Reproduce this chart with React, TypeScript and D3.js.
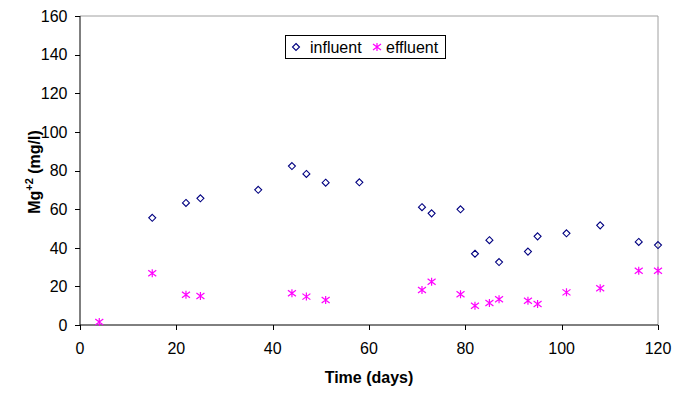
import React from "react";
import * as d3 from "d3";

const influentDays = [15, 22, 25, 37, 44, 47, 51, 58, 71, 73, 79, 82, 85, 87, 93, 95, 101, 108, 116, 120];
const influentMg = [55.5, 63.2, 65.6, 70, 82.3, 78.2, 73.7, 73.9, 61, 57.8, 59.9, 36.9, 43.9, 32.6, 38, 45.9, 47.5, 51.6, 43, 41.4];
const effluentDays = [4, 15, 22, 25, 44, 47, 51, 71, 73, 79, 82, 85, 87, 93, 95, 101, 108, 116, 120];
const effluentMg = [1.6, 26.8, 15.7, 15, 16.4, 14.7, 12.9, 18.1, 22.4, 15.9, 10, 11.4, 13.3, 12.6, 10.9, 16.9, 19, 28.1, 28.1];
const xTicks = [0, 20, 40, 60, 80, 100, 120];
const yTicks = [0, 20, 40, 60, 80, 100, 120, 140, 160];
const seriesNames = ["influent", "effluent"];

const W = 685, H = 394;
const left = 80, right = 658, top = 16, bottom = 325;
const FONT = "'Liberation Sans', Arial, sans-serif";
const NAVY = "#000080";
const MAG = "#FF00FF";

function Diamond({ cx, cy }: { cx: number; cy: number }) {
  const r = 3.5;
  return (
    <path
      d={`M${cx},${cy - r}L${cx + r},${cy}L${cx},${cy + r}L${cx - r},${cy}Z`}
      fill="none"
      stroke={NAVY}
      strokeWidth={1.1}
    />
  );
}

function Star({ cx, cy }: { cx: number; cy: number }) {
  const r = 4;
  return (
    <path
      d={`M${cx},${cy - r}L${cx},${cy + r}M${cx - r},${cy - r * 0.75}L${cx + r},${cy + r * 0.75}M${cx - r},${cy + r * 0.75}L${cx + r},${cy - r * 0.75}`}
      fill="none"
      stroke={MAG}
      strokeWidth={1.2}
    />
  );
}

export default function App() {
  const x = d3.scaleLinear().domain([0, 120]).range([left, right]);
  const y = d3.scaleLinear().domain([0, 160]).range([bottom, top]);

  return (
    <svg width={W} height={H} style={{ position: "absolute", left: 0, top: 0, background: "#fff" }}>
      <rect x={0} y={0} width={W} height={H} fill="#fff" />
      <line x1={left} x2={right} y1={top} y2={top} stroke="#a0a0a0" strokeWidth={1} />
      <line x1={right} x2={right} y1={top} y2={bottom} stroke="#a0a0a0" strokeWidth={1} />
      <line x1={left} x2={left} y1={top} y2={bottom} stroke="#000" strokeWidth={1} />
      <line x1={left} x2={right} y1={bottom} y2={bottom} stroke="#000" strokeWidth={1} />
      {yTicks.map((t) => (
        <g key={"y" + t}>
          <line x1={left - 5} x2={left} y1={Math.round(y(t)) + 0.5} y2={Math.round(y(t)) + 0.5} stroke="#000" />
          <text x={67.5} y={y(t)} dy="0.36em" textAnchor="end" fontFamily={FONT} fontSize={16} fill="#000">
            {t}
          </text>
        </g>
      ))}
      {xTicks.map((t) => (
        <g key={"x" + t}>
          <line x1={Math.round(x(t)) + 0.5} x2={Math.round(x(t)) + 0.5} y1={bottom} y2={bottom + 5} stroke="#000" />
          <text x={x(t)} y={354} textAnchor="middle" fontFamily={FONT} fontSize={16} fill="#000">
            {t}
          </text>
        </g>
      ))}
      <text x={(left + right) / 2} y={383} textAnchor="middle" fontFamily={FONT} fontSize={16} fontWeight="bold" fill="#000">
        Time (days)
      </text>
      <text
        transform={`translate(39.5,172) rotate(-90)`}
        textAnchor="middle"
        fontFamily={FONT}
        fontSize={16}
        fontWeight="bold"
        fill="#000"
      >
        Mg
        <tspan fontSize={11} dy={-7}>+2</tspan>
        <tspan dy={7}> (mg/l)</tspan>
      </text>
      {influentDays.map((d, i) => (
        <Diamond key={"i" + i} cx={x(d)} cy={y(influentMg[i])} />
      ))}
      {effluentDays.map((d, i) => (
        <Star key={"e" + i} cx={x(d)} cy={y(effluentMg[i])} />
      ))}
      <rect x={285.5} y={35.5} width={160} height={23} fill="#fff" stroke="#000" strokeWidth={1} />
      <Diamond cx={296} cy={47} />
      <text x={310} y={52.5} fontFamily={FONT} fontSize={16} fill="#000">{seriesNames[0]}</text>
      <Star cx={377} cy={47} />
      <text x={386} y={52.5} fontFamily={FONT} fontSize={16} fill="#000">{seriesNames[1]}</text>
    </svg>
  );
}
